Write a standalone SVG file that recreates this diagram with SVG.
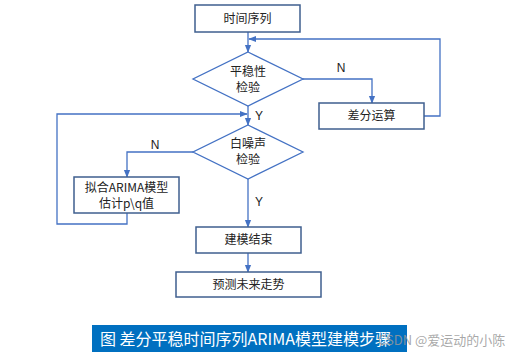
<svg xmlns="http://www.w3.org/2000/svg" width="528" height="360" viewBox="0 0 528 360">
<style>
.box{fill:#fff;stroke:#3f5f8f;stroke-width:1.5}
.dia{fill:#fff;stroke:#4472c4;stroke-width:1.3}
.t{font-family:"Noto Sans CJK SC","Noto Sans",sans-serif;font-size:12px;fill:#222;text-anchor:middle}
.l{font-family:"Liberation Sans",sans-serif;font-size:12px;fill:#222;text-anchor:middle}
.c{fill:none;stroke:#4472c4;stroke-width:1.3}
</style>
<defs>
<marker id="a" viewBox="0 0 10 10" refX="9" refY="5" markerWidth="6" markerHeight="6" orient="auto"><path d="M0,1 L10,5 L0,9 Z" fill="#4472c4"/></marker>
</defs>
<rect width="528" height="360" fill="#fff"/>
<g id="connectors">
<path class="c" d="M248,32 V52" marker-end="url(#a)"/>
<path class="c" d="M303,79 H372 V103" marker-end="url(#a)"/>
<path class="c" d="M424,116 H440 V39 H249" marker-end="url(#a)"/>
<path class="c" d="M248,106 V125" marker-end="url(#a)"/>
<path class="c" d="M127,213 V224 H57 V114 H247" marker-end="url(#a)"/>
<path class="c" d="M193,152 H127 V177" marker-end="url(#a)"/>
<path class="c" d="M248,179 V227" marker-end="url(#a)"/>
<path class="c" d="M248,253 V272" marker-end="url(#a)"/>
<text class="l" x="341" y="72">N</text>
<text class="l" x="259" y="120">Y</text>
<text class="l" x="155" y="149">N</text>
<text class="l" x="259" y="206">Y</text>
</g>
<g id="n1"><rect class="box" x="195" y="5" width="105" height="27"/><text class="t" x="247.5" y="23">时间序列</text></g>
<g id="n2"><polygon class="dia" points="248,52 303,79 248,106 193,79"/><text class="t" x="248" y="76">平稳性</text><text class="t" x="248" y="92">检验</text></g>
<g id="n3"><rect class="box" x="319" y="103" width="105" height="26"/><text class="t" x="371.5" y="120">差分运算</text></g>
<g id="n4"><polygon class="dia" points="248,125 303,152 248,179 193,152"/><text class="t" x="248" y="148">白噪声</text><text class="t" x="248" y="164">检验</text></g>
<g id="n5"><rect class="box" x="74" y="177" width="105" height="36"/><text class="t" x="126.5" y="192">拟合ARIMA模型</text><text class="t" x="126.5" y="208">估计p\q值</text></g>
<g id="n6"><rect class="box" x="196" y="227" width="105" height="26"/><text class="t" x="248.5" y="244">建模结束</text></g>
<g id="n7"><rect class="box" x="176" y="272" width="145" height="25"/><text class="t" x="248.5" y="289">预测未来走势</text></g>
<g id="caption">
<rect x="92" y="325" width="315" height="27" fill="#0070c0"/>
<text x="100" y="344.5" font-family="Noto Sans CJK SC,sans-serif" font-size="16" fill="#fff">图 差分平稳时间序列ARIMA模型建模步骤</text>
<text x="378" y="345" font-family="Noto Sans CJK SC,sans-serif" font-size="13" fill="#999" fill-opacity="0.85">CSDN @爱运动的小陈</text>
</g>
</svg>
